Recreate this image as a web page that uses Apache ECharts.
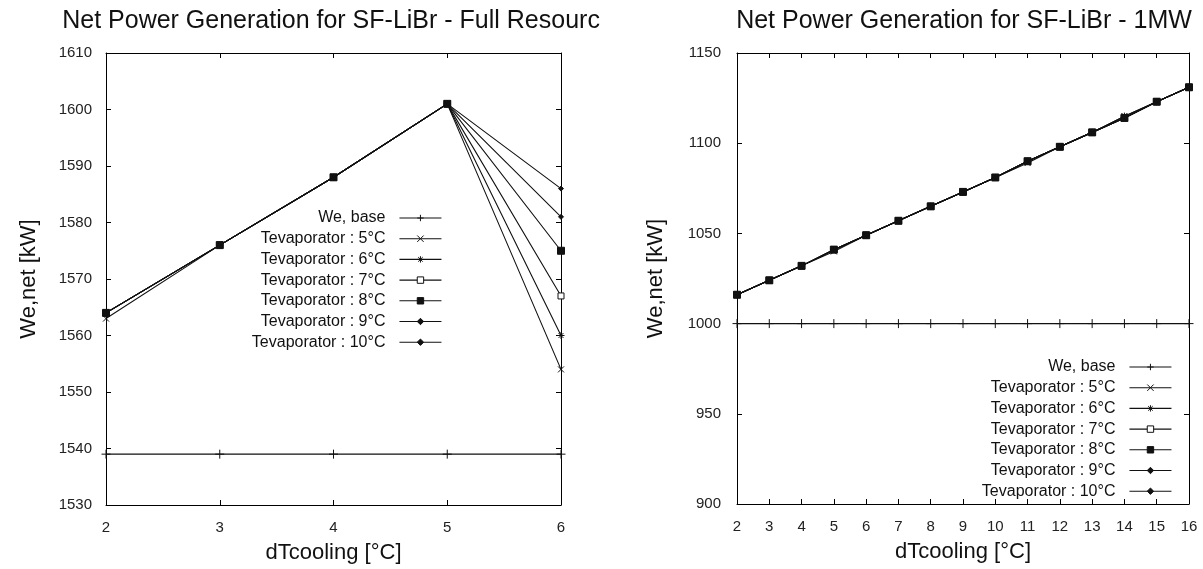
<!DOCTYPE html>
<html><head><meta charset="utf-8">
<script src="https://cdn.jsdelivr.net/npm/echarts@6/dist/echarts.min.js"></script>
<style>
html,body{margin:0;padding:0;background:#fff;width:1203px;height:569px;overflow:hidden}
#c1{position:absolute;left:0;top:0;width:600px;height:569px;overflow:hidden}
#c2{position:absolute;left:600px;top:0;width:603px;height:569px;overflow:hidden}
</style>
</head><body><div id="c1"></div><div id="c2"></div>
<script>
// ---- data ----
const seriesNames = ['We, base', 'Tevaporator : 5°C', 'Tevaporator : 6°C', 'Tevaporator : 7°C', 'Tevaporator : 8°C', 'Tevaporator : 9°C', 'Tevaporator : 10°C'];

const leftTitle = 'Net Power Generation for SF-LiBr - Full Resource';
const leftX = [2, 3, 4, 5, 6];
const leftBase = [1539, 1539, 1539, 1539, 1539];
const leftT5 = [1563, 1576, 1588, 1601, 1554];
const leftT6 = [1564, 1576, 1588, 1601, 1560];
const leftT7 = [1564, 1576, 1588, 1601, 1567];
const leftT8 = [1564, 1576, 1588, 1601, 1575];
const leftT9 = [1564, 1576, 1588, 1601, 1581];
const leftT10 = [1564, 1576, 1588, 1601, 1586];

const rightTitle = 'Net Power Generation for SF-LiBr - 1MW';
const rightX = [2, 3, 4, 5, 6, 7, 8, 9, 10, 11, 12, 13, 14, 15, 16];
const rightBase = [1000, 1000, 1000, 1000, 1000, 1000, 1000, 1000, 1000, 1000, 1000, 1000, 1000, 1000, 1000];
const rightT5 = [1016, 1024, 1032, 1040, 1049, 1057, 1065, 1073, 1081, 1089, 1098, 1106, 1115, 1123, 1131];
const rightT6 = [1016, 1024, 1032, 1041, 1049, 1057, 1065, 1073, 1081, 1090, 1098, 1106, 1115, 1123, 1131];
const rightT7 = [1016, 1024, 1032, 1041, 1049, 1057, 1065, 1073, 1081, 1090, 1098, 1106, 1114, 1123, 1131];
const rightT8 = [1016, 1024, 1032, 1041, 1049, 1057, 1065, 1073, 1081, 1090, 1098, 1106, 1114, 1123, 1131];
const rightT9 = [1016, 1024, 1032, 1041, 1049, 1057, 1065, 1073, 1081, 1090, 1098, 1106, 1114, 1123, 1131];
const rightT10 = [1016, 1024, 1032, 1041, 1049, 1057, 1065, 1073, 1081, 1090, 1098, 1106, 1114, 1123, 1131];

const xAxisName = 'dTcooling [°C]';
const yAxisName = 'We,net [kW]';

// ---- styles ----
const FONT = '"Liberation Sans", Arial, sans-serif';
const INK = '#111';
const markerStyles = [
  { symbol: 'path://M5,0L5,10M0,5L10,5', size: 9, fill: 'none' },
  { symbol: 'path://M0,0L10,10M10,0L0,10', size: 6, fill: 'none' },
  { symbol: 'path://M5,0L5,10M0,5L10,5M1.5,1.5L8.5,8.5M8.5,1.5L1.5,8.5', size: 7, fill: 'none' },
  { symbol: 'rect', size: 6, fill: '#fff' },
  { symbol: 'rect', size: 7, fill: INK, z: 5 },
  { symbol: 'diamond', size: 5, fill: INK },
  { symbol: 'diamond', size: 5, fill: INK }
];

function zip(xs, ys) { return xs.map((x, i) => [x, ys[i]]); }

function makeOption(cfg) {
  const series = cfg.values.map((vals, i) => {
    const m = markerStyles[i];
    return {
      type: 'line', name: seriesNames[i], xAxisIndex: 0, yAxisIndex: 0,
      data: zip(cfg.x, vals),
      symbol: m.symbol, symbolSize: m.size, showSymbol: true, symbolKeepAspect: true,
      z: m.z || 2,
      lineStyle: { color: INK, width: 1.1 },
      itemStyle: { color: m.fill === 'none' ? 'rgba(0,0,0,0)' : m.fill, borderColor: INK, borderWidth: 1 },
      emphasis: { disabled: true }, animation: false
    };
  });
  const axisCommon = {
    axisLine: { show: true, onZero: false, lineStyle: { color: '#000', width: 1 } },
    axisTick: { show: true, inside: true, length: 5, lineStyle: { color: '#000', width: 1 } },
    splitLine: { show: false }
  };
  const labelStyle = { color: '#222', fontSize: 15, fontFamily: FONT, formatter: v => String(v) };
  const nameStyle = { color: '#111', fontSize: 22, fontFamily: FONT };
  return {
    animation: false,
    backgroundColor: '#fff',
    title: {
      text: cfg.title, left: cfg.titleX, top: 4, textAlign: 'center',
      textStyle: { color: '#111', fontSize: 25, fontWeight: 'normal', fontFamily: FONT }
    },
    grid: cfg.grid,
    legend: {
      orient: 'vertical', align: 'right', right: cfg.legend.right, top: cfg.legend.top,
      itemWidth: 42, itemHeight: 8, itemGap: 4.7,
      textStyle: { color: '#111', fontSize: 16, fontFamily: FONT, lineHeight: 16, padding: [0, 9, 0, 0] },
      itemStyle: { borderWidth: 1 },
      lineStyle: { width: 1.1, color: INK },
      selectedMode: false, data: seriesNames
    },
    xAxis: [
      Object.assign({}, axisCommon, {
        type: 'value', position: 'bottom', min: cfg.xMin, max: cfg.xMax, interval: 1,
        name: xAxisName, nameLocation: 'middle', nameGap: cfg.xNameGap, nameTextStyle: nameStyle,
        axisLabel: Object.assign({ margin: 15 }, labelStyle)
      }),
      Object.assign({}, axisCommon, {
        type: 'value', position: 'top', min: cfg.xMin, max: cfg.xMax, interval: 1,
        axisLabel: { show: false }
      })
    ],
    yAxis: [
      Object.assign({}, axisCommon, {
        type: 'value', position: 'left', min: cfg.yMin, max: cfg.yMax, interval: cfg.yInterval,
        name: yAxisName, nameLocation: 'middle', nameGap: cfg.yNameGap, nameTextStyle: nameStyle,
        axisLabel: Object.assign({ margin: cfg.yLabelMargin }, labelStyle)
      }),
      Object.assign({}, axisCommon, {
        type: 'value', position: 'right', min: cfg.yMin, max: cfg.yMax, interval: cfg.yInterval,
        axisLabel: { show: false }
      })
    ],
    series: series
  };
}

const leftChart = echarts.init(document.getElementById('c1'), null, { renderer: 'canvas' });
leftChart.setOption(makeOption({
  title: leftTitle, titleX: 333,
  grid: { left: 106, right: 39, top: 53, bottom: 64 },
  legend: { right: 153, top: 205 },
  x: leftX, values: [leftBase, leftT5, leftT6, leftT7, leftT8, leftT9, leftT10],
  xMin: 2, xMax: 6, yMin: 1530, yMax: 1610, yInterval: 10,
  xNameGap: 37, yNameGap: 66, yLabelMargin: 14
}));

const rightChart = echarts.init(document.getElementById('c2'), null, { renderer: 'canvas' });
rightChart.setOption(makeOption({
  title: rightTitle, titleX: 359,
  grid: { left: 137, right: 14, top: 53, bottom: 65 },
  legend: { right: 26, top: 354 },
  x: rightX, values: [rightBase, rightT5, rightT6, rightT7, rightT8, rightT9, rightT10],
  xMin: 2, xMax: 16, yMin: 900, yMax: 1150, yInterval: 50,
  xNameGap: 37, yNameGap: 70, yLabelMargin: 16
}));
</script>
</body></html>
